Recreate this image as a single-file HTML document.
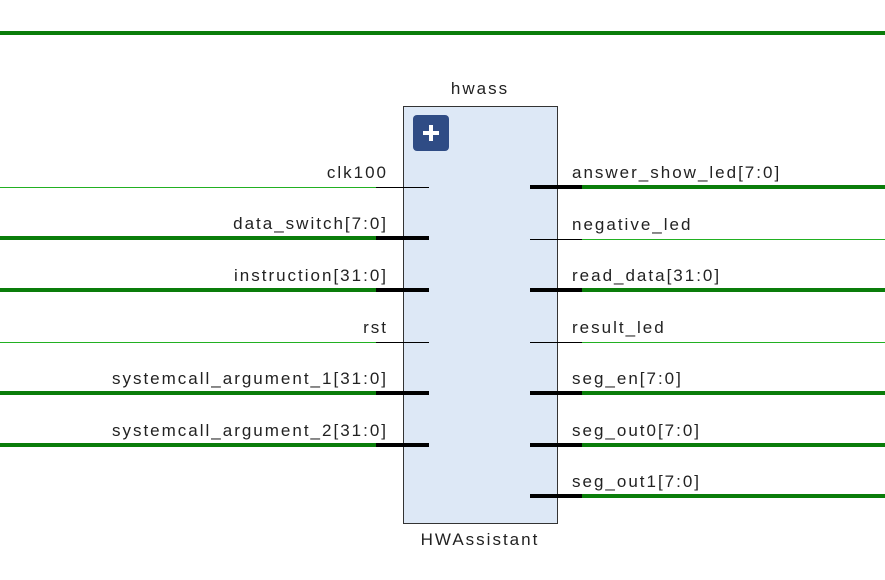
<!DOCTYPE html>
<html><head><style>
body{margin:0;width:885px;height:575px;background:#fff;overflow:hidden}
svg text{font-family:"Liberation Sans",sans-serif;font-size:17px;letter-spacing:2px;fill:#222}
</style></head><body>
<svg width="885" height="575" xmlns="http://www.w3.org/2000/svg">
<line x1="0" y1="33" x2="885" y2="33" stroke="#0a7d0a" stroke-width="4"/>
<rect x="403.5" y="106.5" width="154" height="417" fill="#dde8f6" stroke="#333" stroke-width="1"/>
<rect x="413" y="115" width="36" height="36" rx="4" fill="#2f4c85"/>
<rect x="423" y="131" width="16" height="4" fill="#fff"/>
<rect x="429" y="125" width="4" height="16" fill="#fff"/>
<text x="480" y="94" text-anchor="middle">hwass</text>
<text x="480" y="545" text-anchor="middle">HWAssistant</text>
<g>
<line x1="0" y1="187.5" x2="376" y2="187.5" stroke="#22b022" stroke-width="1"/>
<line x1="376" y1="187.5" x2="429" y2="187.5" stroke="#000" stroke-width="1"/>
<text x="388" y="178" text-anchor="end">clk100</text>
<line x1="0" y1="238" x2="376" y2="238" stroke="#0a7d0a" stroke-width="4"/>
<line x1="376" y1="238" x2="429" y2="238" stroke="#000" stroke-width="4"/>
<text x="388" y="229" text-anchor="end">data_switch[7:0]</text>
<line x1="0" y1="290" x2="376" y2="290" stroke="#0a7d0a" stroke-width="4"/>
<line x1="376" y1="290" x2="429" y2="290" stroke="#000" stroke-width="4"/>
<text x="388" y="281" text-anchor="end">instruction[31:0]</text>
<line x1="0" y1="342.5" x2="376" y2="342.5" stroke="#22b022" stroke-width="1"/>
<line x1="376" y1="342.5" x2="429" y2="342.5" stroke="#000" stroke-width="1"/>
<text x="388" y="333" text-anchor="end">rst</text>
<line x1="0" y1="393" x2="376" y2="393" stroke="#0a7d0a" stroke-width="4"/>
<line x1="376" y1="393" x2="429" y2="393" stroke="#000" stroke-width="4"/>
<text x="388" y="384" text-anchor="end">systemcall_argument_1[31:0]</text>
<line x1="0" y1="445" x2="376" y2="445" stroke="#0a7d0a" stroke-width="4"/>
<line x1="376" y1="445" x2="429" y2="445" stroke="#000" stroke-width="4"/>
<text x="388" y="436" text-anchor="end">systemcall_argument_2[31:0]</text>
</g>
<g>
<line x1="530" y1="187" x2="582" y2="187" stroke="#000" stroke-width="4"/>
<line x1="582" y1="187" x2="885" y2="187" stroke="#0a7d0a" stroke-width="4"/>
<text x="572" y="178">answer_show_led[7:0]</text>
<line x1="530" y1="239.5" x2="582" y2="239.5" stroke="#000" stroke-width="1"/>
<line x1="582" y1="239.5" x2="885" y2="239.5" stroke="#22b022" stroke-width="1"/>
<text x="572" y="230">negative_led</text>
<line x1="530" y1="290" x2="582" y2="290" stroke="#000" stroke-width="4"/>
<line x1="582" y1="290" x2="885" y2="290" stroke="#0a7d0a" stroke-width="4"/>
<text x="572" y="281">read_data[31:0]</text>
<line x1="530" y1="342.5" x2="582" y2="342.5" stroke="#000" stroke-width="1"/>
<line x1="582" y1="342.5" x2="885" y2="342.5" stroke="#22b022" stroke-width="1"/>
<text x="572" y="333">result_led</text>
<line x1="530" y1="393" x2="582" y2="393" stroke="#000" stroke-width="4"/>
<line x1="582" y1="393" x2="885" y2="393" stroke="#0a7d0a" stroke-width="4"/>
<text x="572" y="384">seg_en[7:0]</text>
<line x1="530" y1="445" x2="582" y2="445" stroke="#000" stroke-width="4"/>
<line x1="582" y1="445" x2="885" y2="445" stroke="#0a7d0a" stroke-width="4"/>
<text x="572" y="436">seg_out0[7:0]</text>
<line x1="530" y1="496" x2="582" y2="496" stroke="#000" stroke-width="4"/>
<line x1="582" y1="496" x2="885" y2="496" stroke="#0a7d0a" stroke-width="4"/>
<text x="572" y="487">seg_out1[7:0]</text>
</g>
</svg>
</body></html>
